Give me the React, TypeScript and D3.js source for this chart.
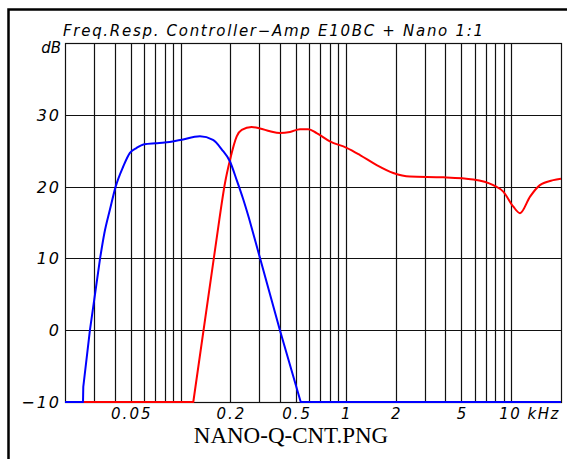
import React from "react";
import * as d3 from "d3";

const W = 567;
const H = 459;

const title = "Freq.Resp. Controller\u2212Amp E10BC + Nano 1:1";
const caption = "NANO-Q-CNT.PNG";

const xDomain = [0.02, 20];
const yDomain = [-10, 40];

const gridFreqs = [
  0.03, 0.04, 0.05, 0.06, 0.07, 0.08, 0.09, 0.1,
  0.2, 0.3, 0.4, 0.5, 0.6, 0.7, 0.8, 0.9, 1,
  2, 3, 4, 5, 6, 7, 8, 9, 10,
];
const gridDb = [0, 10, 20, 30];

const xTickValues = [0.05, 0.2, 0.5, 1, 2, 5, 10];
const xTickLabels = ["0.05", "0.2", "0.5", "1", "2", "5", "10"];
const yTickValues = [30, 20, 10, 0, -10];
const yTickLabels = ["30", "20", "10", "0", "\u221210"];

// Blue: controller-amp response
const blueFreq = [
  0.02, 0.0257, 0.0258, 0.0283, 0.0326, 0.0346, 0.0374, 0.0405, 0.045, 0.0494,
  0.0543, 0.0603, 0.0707, 0.0802, 0.0996, 0.131, 0.157, 0.1773, 0.199, 0.2186,
  0.2396, 0.2594, 0.399, 0.533, 20,
];
const blueDb = [
  -10, -10, -7.9, 0, 10, 13.5, 16.8, 20, 22.8, 24.7,
  25.4, 25.9, 26.05, 26.15, 26.5, 27.0, 26.5, 25.2, 23.5, 20.9,
  18.2, 15.6, 0, -10, -10,
];
// index range drawn as a smooth curve (others straight)
const blueSmooth = [4, 21];

// Red: with Nano
const redFreq = [
  0.0257, 0.1194, 0.1716, 0.1857, 0.199, 0.2186, 0.2344, 0.269, 0.302, 0.3475,
  0.399, 0.459, 0.528, 0.593, 0.665, 0.8, 1.01, 1.217, 1.536, 1.935,
  2.44, 3.88, 5.9, 7.79, 8.95, 10.3, 11.3, 13.0, 14.9, 17.97, 20,
];
const redDb = [
  -10, -10, 15.4, 20.5, 23.7, 27.0, 27.9, 28.3, 28.1, 27.7,
  27.45, 27.6, 28.0, 28.0, 27.45, 26.3, 25.4, 24.4, 23.0, 21.9,
  21.4, 21.3, 21.0, 20.2, 19.3, 17.2, 16.3, 18.6, 20.2, 20.9, 21.1,
];
const redSmooth = [2, 30];

const plot = { left: 65, right: 561, top: 43, bottom: 402 };

type P = [number, number];

export default function App() {
  const x = d3.scaleLog().domain(xDomain).range([plot.left, plot.right]);
  const y = d3.scaleLinear().domain(yDomain).range([plot.bottom, plot.top]);

  const lin = d3.line<P>().x((d) => x(d[0])).y((d) => y(d[1])).curve(d3.curveLinear);
  const smooth = d3.line<P>().x((d) => x(d[0])).y((d) => y(d[1])).curve(d3.curveMonotoneX);

  const build = (fs: number[], vs: number[], sm: number[]) => {
    const pts: P[] = fs.map((f, i) => [f, vs[i]]);
    const parts: string[] = [];
    const a = pts.slice(0, sm[0] + 1);
    const b = pts.slice(sm[0], sm[1] + 1);
    const c = pts.slice(sm[1]);
    if (a.length > 1) parts.push(lin(a) || "");
    if (b.length > 1) parts.push(smooth(b) || "");
    if (c.length > 1) parts.push(lin(c) || "");
    return parts
      .map((p, i) => (i === 0 ? p : "L" + p.slice(1)))
      .join("");
  };

  const blue = build(blueFreq, blueDb, blueSmooth);
  const red = build(redFreq, redDb, redSmooth);

  const tickFont = {
    fontFamily: "'DejaVu Sans', sans-serif",
    fontStyle: "italic" as const,
    fontSize: 15,
    letterSpacing: 2,
  };

  return (
    <svg
      width={W}
      height={H}
      style={{ position: "absolute", left: 0, top: 0, background: "#fff" }}
    >
      <rect x={0} y={0} width={W} height={H} fill="#fff" />
      {/* outer frame */}
      <path d={`M8.5,${H} L8.5,9.5 L${W},9.5`} fill="none" stroke="#000" strokeWidth={2.5} />

      {/* title */}
      <text
        x={63}
        y={36}
        fontFamily="'DejaVu Sans', sans-serif"
        fontStyle="italic"
        fontSize={15}
        textLength={420}
        lengthAdjust="spacing"
      >
        {title}
      </text>

      {/* vertical grid */}
      {gridFreqs.map((f) => (
        <line
          key={"v" + f}
          x1={Math.round(x(f)) + 0.5}
          x2={Math.round(x(f)) + 0.5}
          y1={plot.top}
          y2={plot.bottom}
          stroke="#111"
          strokeWidth={1.2}
        />
      ))}
      {/* horizontal grid */}
      {gridDb.map((v) => (
        <line
          key={"h" + v}
          x1={plot.left}
          x2={plot.right}
          y1={Math.round(y(v)) + 0.5}
          y2={Math.round(y(v)) + 0.5}
          stroke="#111"
          strokeWidth={1.2}
        />
      ))}
      {/* plot box */}
      <rect
        x={plot.left + 0.5}
        y={plot.top + 0.5}
        width={plot.right - plot.left}
        height={plot.bottom - plot.top}
        fill="none"
        stroke="#111"
        strokeWidth={1.2}
      />

      {/* curves */}
      <path d={red} fill="none" stroke="#ff0000" strokeWidth={2} strokeLinejoin="round" />
      <path d={blue} fill="none" stroke="#0000ff" strokeWidth={2} strokeLinejoin="round" />

      {/* y tick labels */}
      {yTickValues.map((v, i) => (
        <text
          key={"yl" + v}
          x={61}
          y={y(v) + 6}
          textAnchor="end"
          {...tickFont}
          fontSize={16}
        >
          {yTickLabels[i]}
        </text>
      ))}
      <text x={61} y={53} textAnchor="end" {...tickFont} fontSize={15} letterSpacing={0}>
        dB
      </text>

      {/* x tick labels */}
      {xTickValues.map((v, i) =>
        i === xTickValues.length - 1 ? (
          <text key={"xl" + v} x={x(v) - 12} y={419} textAnchor="start" {...tickFont} letterSpacing={1.5}>
            {xTickLabels[i] + " kHz"}
          </text>
        ) : (
          <text key={"xl" + v} x={x(v) + 1} y={419} textAnchor="middle" {...tickFont}>
            {xTickLabels[i]}
          </text>
        )
      )}

      {/* caption */}
      <text
        x={291}
        y={443}
        textAnchor="middle"
        fontFamily="'Liberation Serif', 'Times New Roman', serif"
        fontSize={23}
      >
        {caption}
      </text>
    </svg>
  );
}
